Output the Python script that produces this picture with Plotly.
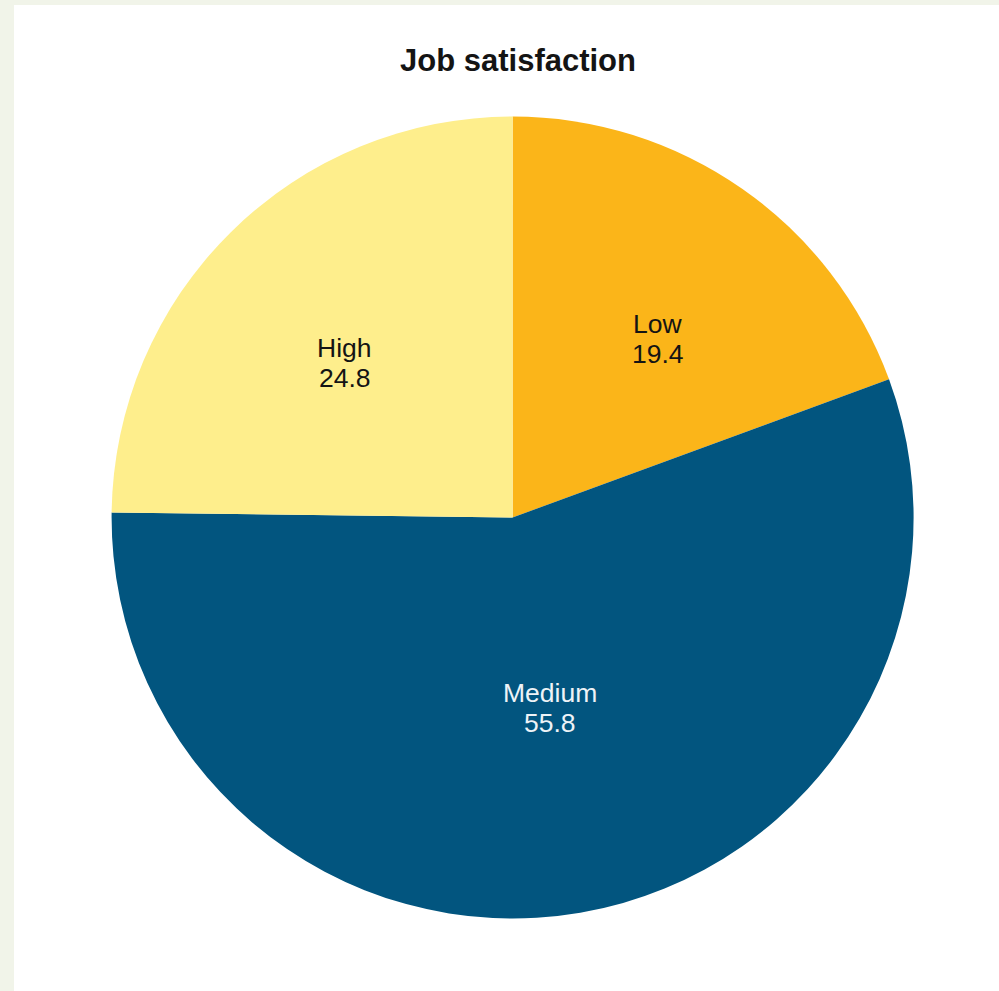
import math
import plotly.graph_objects as go

# Job satisfaction shares (percent)
categories = ["Low", "Medium", "High"]
shares = [19.4, 55.8, 24.8]
slice_colors = ["#FBB519", "#02557F", "#FEEE8C"]
label_colors = ["#141414", "#EEF3F7", "#141414"]
# label placement: fraction of the radius, and a small nudge (degrees) off the mid-angle
label_radius = [0.574, 0.485, 0.569]
label_nudge = [4.2, -1.3, -2.8]

W, H = 999, 991
cx, cy, r = 512.6, 517.5, 401
FONT = "Liberation Sans, Arial, sans-serif"

fig = go.Figure(
    go.Pie(
        labels=categories,
        values=shares,
        sort=False,
        direction="clockwise",
        rotation=0,
        marker=dict(colors=slice_colors, line=dict(width=0)),
        textinfo="none",
        hoverinfo="label+value",
        showlegend=False,
        domain=dict(
            x=[(cx - r) / W, (cx + r) / W],
            y=[1 - (cy + r) / H, 1 - (cy - r) / H],
        ),
    )
)

# slice labels: name above value, centred near each slice's mid-angle
annotations = []
total = sum(shares)
start = 0.0
for name, val, col, rf, nudge in zip(categories, shares, label_colors, label_radius, label_nudge):
    mid = (start + val / 2) / total * 2 * math.pi + math.radians(nudge)
    start += val
    px = cx + rf * r * math.sin(mid)
    py = cy - rf * r * math.cos(mid)
    for txt, shift in ((name, 15), (f"{val}", -15)):
        annotations.append(
            dict(
                x=px / W,
                y=1 - py / H,
                xref="paper",
                yref="paper",
                text=txt,
                showarrow=False,
                xanchor="center",
                yanchor="middle",
                yshift=shift,
                font=dict(family=FONT, size=26.5, color=col),
            )
        )

fig.update_layout(
    width=W,
    height=H,
    margin=dict(l=0, r=0, t=0, b=0),
    paper_bgcolor="#F1F4E9",
    plot_bgcolor="#FFFFFF",
    title=dict(
        text="<b>Job satisfaction</b>",
        x=518 / W,
        xanchor="center",
        y=1 - 60 / H,
        yanchor="middle",
        font=dict(family=FONT, size=31, color="#141414"),
    ),
    annotations=annotations,
    shapes=[
        dict(
            type="rect",
            xref="paper",
            yref="paper",
            x0=14 / W,
            x1=1,
            y0=0,
            y1=1 - 5 / H,
            fillcolor="#FFFFFF",
            line=dict(width=0),
            layer="below",
        )
    ],
)

fig.write_html("out.html")
